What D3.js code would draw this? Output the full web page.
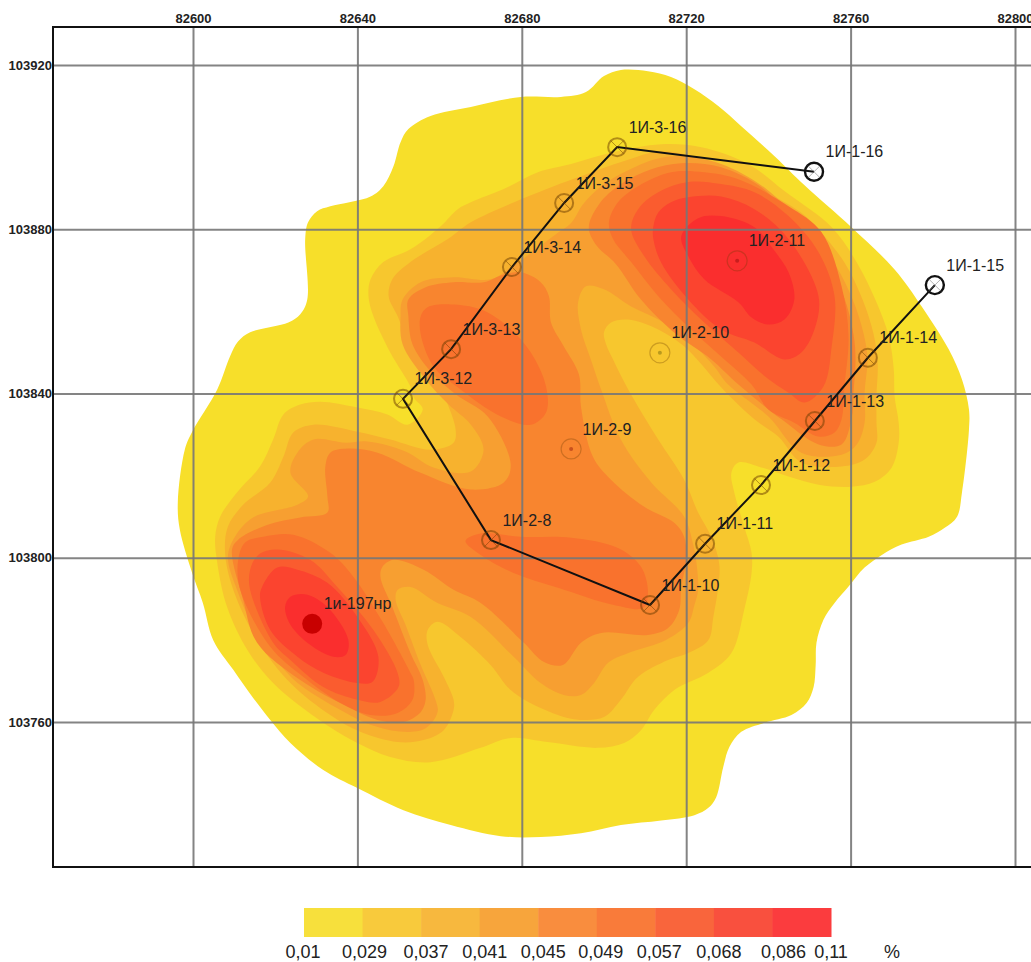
<!DOCTYPE html>
<html>
<head>
<meta charset="utf-8">
<style>
  html, body { margin: 0; background: #fff; overflow: hidden; }
  text { font-family: "Liberation Sans", Arial, sans-serif; }
</style>
<script src="https://cdn.jsdelivr.net/npm/d3@7"></script>
</head>
<body>
<div id="map"></div>
<script>
// Legend classes, %
const classLimits = ["0,01", "0,029", "0,037", "0,041", "0,045", "0,049", "0,057", "0,068", "0,086", "0,11"];
const bandColors = ["#f7df2a", "#f7c72e", "#f7b22e", "#f79f31", "#f8852f", "#f9722d", "#fa5c2f", "#fb442f", "#fa2e2e"];
const legendColors = ["#f7e03c", "#f8ca3c", "#f7b83e", "#f7a53c", "#f98d3e", "#f97b3a", "#f9653c", "#f9503e", "#fb3c3e"];

const eastTicks = [82600, 82640, 82680, 82720, 82760, 82800];
const northTicks = [103760, 103800, 103840, 103880, 103920];

// Isolines: [east - 82600, north - 103760]
const eastOrigin = 82600;
const northOrigin = 103760;

const limit001 = [[89.5,152.2],[95.6,153.4],[100,157.3],[104.1,158.8],[110.7,158.5],[116.3,157.1],[122,154.1],[127.8,150],[133.4,145.1],[141.5,137.8],[148.8,130.7],[160.2,120.5],[170.7,110.2],[177.3,101.2],[183.9,90.7],[187.1,83.4],[188.8,76.1],[188.8,71.2],[187.1,55.9],[185.9,50],[182.9,47.3],[179,45.1],[172.4,43.2],[167.6,40.7],[163.4,37.6],[159.5,33],[156.1,29],[153.4,24.9],[151.7,19.3],[151.5,13.9],[151,8.5],[149.3,4.6],[145.6,1.7],[139,-0.2],[133.4,-2.4],[130.5,-6.1],[129,-11],[127.3,-18.3],[125.4,-20.9],[122,-22.7],[113.9,-24],[104.1,-25.1],[94.4,-27.1],[84.6,-28],[74.9,-27.8],[62.7,-25.1],[51.2,-21.5],[40,-16.1],[31.7,-11.7],[23.7,-5.1],[18.8,0.5],[14.6,5.9],[9.8,12.7],[4.9,20],[2.4,29],[-0.2,36.3],[-3.2,46.8],[-3.7,53.4],[-2,66.3],[-0.2,70.7],[5.9,81],[9,89],[11,92.7],[13.9,94.9],[23.2,97.3],[26.1,99.3],[27.8,102.9],[27.3,117.6],[28,121.7],[30.2,124.4],[33.4,125.6],[43.2,128],[46.3,130.5],[48.8,135.4],[50.5,141.2],[52.4,144.4],[57.8,147.6],[67.6,149.8],[79.8,152.2]];

const limit0029 = [[113.9,140.7],[123.7,140],[135.1,135.9],[143.9,129.3],[155.4,120.5],[161.5,111.9],[166.3,102.2],[169.3,93.9],[170.5,85.9],[170.7,79.3],[171.7,72.9],[171.7,68],[170,62],[165.9,58.5],[160.2,57.3],[152.2,57.8],[144.9,59.8],[138.3,62],[132.7,63.2],[131,60.7],[131.7,55.9],[134.1,47.6],[135.9,41.2],[135.9,36.3],[134.1,27.3],[131,16.8],[125.4,12],[117.1,7.8],[112.2,2.9],[109,-2],[104.9,-5.1],[98.5,-6.3],[86.3,-4.9],[77.3,-3.9],[70,-6.3],[57.8,-9.8],[48,-8.5],[40,-5.1],[31.7,-0.2],[19.5,9.5],[13.2,17.6],[8.3,28],[5.9,38.8],[5.4,45.1],[6.6,50],[10.7,55.9],[16.3,62.2],[19.5,68.8],[22,74.9],[26.1,77.3],[31,78],[40,76.6],[47.3,74.9],[52.2,72.4],[55.9,76.1],[53.7,79],[52.9,81.7],[48,90],[43.9,98.8],[42.7,103.7],[43.2,107.8],[46.3,112],[52.9,115.1],[60.2,120.7],[64.4,124.9],[67.6,126.6],[75.6,129.8],[83.9,133.9],[92,135.9],[102.4,138.8]];

const limit0037 = [[113.9,139],[123.7,137.1],[133.4,133.4],[140.7,128.5],[148,124],[151.7,120.5],[158.5,111.9],[162.9,102.9],[165.6,94.4],[166.6,87.1],[166.3,79.8],[166.3,72.9],[166.3,68],[163.4,63.9],[157.8,62.2],[148,63.2],[142.4,69.5],[136.6,73.7],[128.5,81.5],[123.7,87.1],[119.5,91.5],[113.2,95.6],[105.9,98],[101.7,97.3],[100,94.9],[100.5,92],[102.2,88.3],[105.9,81],[113.2,68.8],[119.5,59],[122.9,51],[126.1,45.1],[128,38.8],[128,34.6],[126.6,25.6],[125.4,20],[120.5,16.8],[115.6,15.1],[108.3,11],[104.1,5.4],[100,1.2],[92.7,0.7],[84.6,3.4],[77.3,7.8],[72.4,13.9],[65.1,20.7],[59.5,24.4],[57.1,22.4],[57.1,18.8],[61,11],[63.4,5.4],[63.4,2.9],[61,-2],[56.1,-4.4],[49.8,-4.9],[40.7,-2.4],[33.4,1.7],[23.7,9.5],[15.6,20],[9.8,32.2],[7.8,41.2],[8.5,47.6],[12.2,52.9],[18.8,58.3],[22,64.6],[24.4,70.5],[29.3,72.4],[40,70.7],[48,68.8],[57.8,66.3],[63.4,68],[63.9,71.2],[61.5,78.5],[58.5,84.1],[53.4,90],[49.8,98.8],[47.6,103.7],[48.5,107.8],[52.9,112],[62,117.6],[67.6,121.7],[79.8,127.3],[87.8,130.5],[94.4,132.9],[104.9,136.6]];

const limit0041 = [[50.5,98.8],[51,102.9],[55.4,107.1],[63.4,108.3],[72.4,107.8],[77.3,110.7],[83.4,115.1],[88.3,118.8],[92,121.5],[94.9,126.1],[99.3,130.5],[105.4,134.1],[112.7,137.1],[118.8,137.8],[128.5,135.9],[139.5,129.8],[148.8,120.5],[155.9,111.9],[160.5,102.9],[163.2,94.4],[164.1,88.3],[163.4,80.2],[163.4,72.9],[161.5,67.6],[157.8,65.1],[148,65.6],[140,74.4],[130.2,82.2],[126.8,86.6],[121.2,92.4],[114.6,97.3],[106.6,101.2],[100,105.4],[95.6,106.1],[93.7,102.2],[94.4,95.6],[96.8,88.3],[99.3,81],[104.1,68.8],[111.5,58.3],[119.5,50],[121.7,43.2],[122.4,39.5],[122.9,32.2],[122,28.5],[120.5,24.1],[115.1,20],[105.9,16.8],[101,14.4],[97.6,9.5],[94.4,6.6],[90.2,6.6],[84.6,9.5],[78,15.9],[67.6,25.6],[59.5,29],[52.9,32.9],[49.8,32.2],[49.3,29.8],[51.7,23.7],[55.4,13.9],[59,5.4],[59.5,2.4],[56.6,-1.5],[51.2,-2.4],[43.2,-0.7],[35.9,2.9],[26.1,9],[21.2,13.9],[15.1,22.4],[10.7,32.2],[8.5,40.2],[10.2,45.1],[14.6,49.8],[25.4,52.9],[28,54.9],[23.7,60.7],[25.4,65.6],[29.3,68.8],[37.1,68],[42.4,68.3],[51.7,65.9],[58.5,62],[67.6,61],[70.7,66.3],[67.6,72.4],[62.2,77.3],[56.6,83.4],[51,92]];

const limit0045Central = [[52.4,98.8],[52.4,102.9],[56.6,105.9],[63.4,107.1],[70.7,107.1],[75.6,109],[79.8,109.5],[84.6,107.1],[86.6,103.7],[87.1,97.3],[90.2,91.5],[93.9,84.6],[94.4,76.8],[97.3,64.6],[101.7,59],[109.8,52.4],[117.1,48.5],[119.5,45.1],[120,39.5],[118.8,32.9],[118.3,27.3],[115.6,22.9],[110.7,21.2],[99.3,21.7],[94.4,19.3],[90,13.9],[85.4,14.6],[80.5,19.3],[70,29],[63.4,32.2],[56.1,37.1],[48.8,39.5],[46.1,37.8],[45.6,35.4],[48.5,28],[52.9,16.8],[55.9,10.2],[56.6,5.4],[55.4,2.4],[51.2,0],[44.9,0.5],[37.6,3.7],[26.1,10.2],[15.6,19.3],[12.2,29.8],[9.5,42],[11,44.4],[18,48],[26.1,49.8],[32.7,51],[32.7,54.9],[32.2,62.2],[33.4,65.6],[37.6,66.6],[44.9,65.6],[55.4,60.7],[67.6,56.6],[75.6,58.3],[77.3,62.7],[71.7,74.4],[63.9,79.8],[57.8,85.4],[53.4,92]];
const limit0045East = [[96.3,120.5],[98.8,126.1],[104.1,131],[111.5,134.6],[118.8,136.1],[128.5,135.1],[138.3,130.2],[146.8,121.2],[152.9,113.9],[158.3,103.7],[160.7,94.4],[161.2,88.3],[160.7,80.2],[160.2,73.7],[157.8,67.6],[152.2,67.6],[143.2,73.7],[132.7,82.2],[126.1,88.3],[117.6,94.4],[109,102.9],[102.9,111.5],[98,116.3]];

const limit0049East = [[101.2,121.7],[103.4,126.6],[108.3,130.5],[116.3,133.9],[124.4,133.9],[132.7,132.2],[144.9,125.6],[152.9,119.3],[157.8,106.1],[159.5,93.9],[158.5,81.7],[157.8,73.7],[156.1,70.5],[152.2,69.5],[146.3,72.9],[140,76.1],[135.9,82.2],[129.3,88.3],[121.2,95.6],[113.2,103.7],[106.6,112],[102.2,117.6]];
const limit0049West = [[55.4,98.8],[57.1,101],[62.7,101.7],[70,100.5],[76.6,96.3],[82.2,90],[85.9,81.7],[85.9,75.4],[82.2,72.4],[74.9,74.4],[64.4,81.5],[58.5,86.6],[55.4,94.4]];
const limit0049Profile = [[66.3,44.1],[70,45.9],[79.8,45.1],[92,44.9],[103.4,42.4],[109,37.8],[110.7,31.5],[109.5,27.8],[102.4,28.5],[88.8,32.7],[78,36.3],[70,40.7]];
const limit0049South = [[11,39.5],[12.7,43.7],[17.1,45.1],[24.4,45.6],[33.4,41.2],[39,35.4],[46.3,24.1],[52.9,12],[53.7,10.2],[53.4,5.4],[49.8,2.2],[43.2,1.7],[35.9,4.6],[26.8,11],[18.8,18.3],[11.5,32.2]];

const limit0057East = [[106.6,120],[108.3,124.9],[113.2,129],[120.5,131.5],[128.5,131],[136.6,129],[144.9,123.2],[152.2,114.4],[156.1,103.7],[155.4,91.5],[153.4,81.7],[148.8,77.8],[144.9,80.2],[139.5,83.9],[132.7,90],[124.4,97.3],[116.3,105.4],[109.8,113.4]];
const limit0057South = [[13.9,37.1],[15.9,40.7],[20.5,42],[28.5,39.5],[35.1,32.9],[43.9,22.4],[49.8,11.9],[50,8.5],[45.6,4.9],[40,5.4],[31.7,8.5],[23.7,15.1],[19.5,19.3],[13.9,32.2]];

const limit0068East = [[112,120.7],[113.2,124.1],[116.3,126.6],[120.5,127.8],[128.5,128],[136.6,124.9],[144.9,117.6],[152.2,103.7],[151.2,95.6],[148,90],[143.9,88.3],[136.6,92.4],[128.5,95.6],[120.5,102.9],[113.9,111.9],[112,117.6]];
const limit0068South = [[16.8,32.9],[20.5,37.6],[25.4,37.1],[32.7,33.9],[40,25.6],[45.1,15.9],[43.7,9.8],[40,9.5],[31.7,12],[25.4,15.9],[18.8,22.4],[16.3,30.5]];

const limit0086East = [[118.8,118.3],[122.9,122.7],[128.5,123.2],[136.6,120.5],[141.2,115.1],[144.9,109.5],[146.3,102.9],[143.9,98],[140,96.8],[135.9,98.5],[132.7,102.2],[124.4,107.8],[120.5,113.4]];
const limit0086South = [[22.4,28],[23.7,30.5],[27.8,31],[32.7,28],[37.8,20],[37.1,16.3],[34.1,15.9],[28.5,18.8],[23.7,23.7]];

// Wells
const profileNames = ["1И-1-16", "1И-3-16", "1И-3-15", "1И-3-14", "1И-3-13", "1И-3-12", "1И-2-8", "1И-1-10", "1И-1-11", "1И-1-12", "1И-1-13", "1И-1-14", "1И-1-15"];
const profileEast = [82751.1, 82703.2, 82690.3, 82677.6, 82662.8, 82651.1, 82672.5, 82711.2, 82724.6, 82738.2, 82751.3, 82764.2, 82780.5];
const profileNorth = [103894, 103900, 103886.4, 103870.8, 103850.8, 103838.7, 103804.3, 103788.5, 103803.4, 103817.7, 103833.3, 103848.7, 103866.4];
const innerNames = ["1И-2-11", "1И-2-10", "1И-2-9"];
const innerEast = [82732.4, 82713.6, 82692];
const innerNorth = [103872.3, 103849.9, 103826.5];
const innerDots = ["#c81e1e", "#b99a1e", "#c9521e"];
const sourceName = "1и-197нр";
const sourceEast = 82629;
const sourceNorth = 103783.9;

const width = 1031;
const height = 962;
const frame = { left: 53, top: 27, bottom: 867 };

const x = d3.scaleLinear().domain([82600, 82800]).range([193, 1015]);
const y = d3.scaleLinear().domain([103760, 103920]).range([722, 65]);

const bands = [
  { color: 0, rings: [limit001] },
  { color: 1, rings: [limit0029] },
  { color: 2, rings: [limit0037] },
  { color: 3, rings: [limit0041] },
  { color: 4, rings: [limit0045Central, limit0045East] },
  { color: 5, rings: [limit0049East, limit0049West, limit0049Profile, limit0049South] },
  { color: 6, rings: [limit0057East, limit0057South] },
  { color: 7, rings: [limit0068East, limit0068South] },
  { color: 8, rings: [limit0086East, limit0086South] },
];

const svg = d3.select("#map").append("svg").attr("width", width).attr("height", height);

const isoline = d3
  .line()
  .x((d) => x(eastOrigin + d[0]))
  .y((d) => y(northOrigin + d[1]))
  .curve(d3.curveCatmullRomClosed.alpha(0.5));

// lower classes first, higher ones painted over them
bands.forEach((band) => {
  svg
    .append("g")
    .selectAll("path")
    .data(band.rings)
    .join("path")
    .attr("d", isoline)
    .attr("fill", bandColors[band.color]);
});

// Grid and coordinates
const xAxis = svg
  .append("g")
  .attr("transform", `translate(0,${frame.top})`)
  .call(d3.axisTop(x).tickValues(eastTicks).tickFormat(d3.format("d")).tickSize(frame.top - frame.bottom).tickPadding(2));

const yAxis = svg
  .append("g")
  .attr("transform", `translate(${frame.left},0)`)
  .call(d3.axisLeft(y).tickValues(northTicks).tickFormat(d3.format("d")).tickSize(frame.left - width).tickPadding(1));

[xAxis, yAxis].forEach((axis) => {
  axis.select(".domain").remove();
  axis.selectAll("line").attr("stroke", "#777").attr("stroke-width", 2).attr("stroke-opacity", 0.9);
  axis.selectAll("text").attr("font-size", 13).attr("font-weight", "bold").attr("fill", "#222");
});
xAxis.selectAll("text").attr("y", -4);

svg
  .append("path")
  .attr("d", `M${width},${frame.top}H${frame.left}V${frame.bottom}H${width}`)
  .attr("fill", "none")
  .attr("stroke", "#111")
  .attr("stroke-width", 2);

// Profile through the wells
const profile = profileNames.map((name, i) => ({ name, east: profileEast[i], north: profileNorth[i] }));

svg
  .append("path")
  .datum(profile)
  .attr("d", d3.line().x((d) => x(d.east)).y((d) => y(d.north)))
  .attr("fill", "none")
  .attr("stroke", "#111")
  .attr("stroke-width", 2);

const isDry = (d) => d.name === "1И-1-16" || d.name === "1И-1-15";

const wells = svg
  .append("g")
  .selectAll("g")
  .data(profile)
  .join("g")
  .attr("transform", (d) => `translate(${x(d.east)},${y(d.north)})`);

wells
  .append("circle")
  .attr("r", 9)
  .attr("fill", "none")
  .attr("stroke", (d) => (isDry(d) ? "#111" : "#6b3c00"))
  .attr("stroke-opacity", (d) => (isDry(d) ? 1 : 0.5))
  .attr("stroke-width", (d) => (isDry(d) ? 2.4 : 2));

wells
  .append("path")
  .attr("d", "M-6.4,-6.4L6.4,6.4M-6.4,6.4L6.4,-6.4")
  .attr("stroke", (d) => (isDry(d) ? "#666" : "#6b3c00"))
  .attr("stroke-opacity", 0.5)
  .attr("stroke-width", 1);

const inner = innerNames.map((name, i) => ({ name, east: innerEast[i], north: innerNorth[i], dot: innerDots[i] }));

const innerWells = svg
  .append("g")
  .selectAll("g")
  .data(inner)
  .join("g")
  .attr("transform", (d) => `translate(${x(d.east)},${y(d.north)})`);

innerWells
  .append("circle")
  .attr("r", 10)
  .attr("fill", "none")
  .attr("stroke", "#6b3c00")
  .attr("stroke-opacity", 0.3)
  .attr("stroke-width", 1.2);

innerWells.append("circle").attr("r", 2).attr("fill", (d) => d.dot);

svg
  .append("circle")
  .attr("cx", x(sourceEast))
  .attr("cy", y(sourceNorth))
  .attr("r", 10)
  .attr("fill", "#c80000");

// Well labels
const labels = [...profile, ...inner, { name: sourceName, east: sourceEast, north: sourceNorth }];

svg
  .append("g")
  .selectAll("text")
  .data(labels)
  .join("text")
  .attr("x", (d) => x(d.east) + 11.5)
  .attr("y", (d) => y(d.north) - 20)
  .attr("dy", "0.35em")
  .attr("font-size", 16)
  .attr("fill", "#222")
  .text((d) => d.name);

// Legend
const legendX = d3.scaleLinear().domain([0, bandColors.length]).range([304, 831]);
const labelNudge = [-1, 2, 5, 5, 5, 4, 4, 5, 11, 0];

svg
  .append("g")
  .selectAll("rect")
  .data(legendColors)
  .join("rect")
  .attr("x", (d, i) => legendX(i))
  .attr("y", 908)
  .attr("width", legendX(1) - legendX(0) + 0.5)
  .attr("height", 29)
  .attr("fill", (d) => d);

svg
  .append("g")
  .selectAll("text")
  .data(classLimits)
  .join("text")
  .attr("x", (d, i) => legendX(i) + labelNudge[i])
  .attr("y", 958)
  .attr("text-anchor", "middle")
  .attr("font-size", 18)
  .attr("fill", "#222")
  .text((d) => d);

svg
  .append("text")
  .attr("x", 892)
  .attr("y", 958)
  .attr("text-anchor", "middle")
  .attr("font-size", 18)
  .attr("fill", "#222")
  .text("%");
</script>
</body>
</html>
